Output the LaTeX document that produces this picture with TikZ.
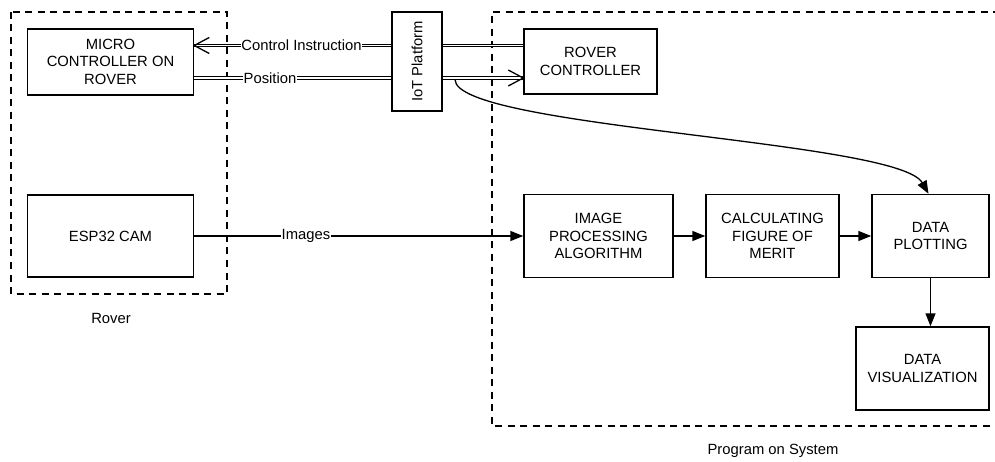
\documentclass[tikz,border=0pt]{standalone}
\usepackage{fontspec}
\setmainfont{Liberation Sans}
\usetikzlibrary{arrows.meta,calc}
\begin{document}
\begin{tikzpicture}[x=1pt,y=-1pt,
  font=\fontsize{14.8}{17.6}\selectfont,
  blk/.style={draw,line width=1.5pt,align=center,inner sep=0pt},
  grp/.style={draw,line width=1.3pt,dash pattern=on 7pt off 5.5pt},
  dbl/.style={draw,double,line width=1.1pt,double distance=1.3pt},
  chev/.style={draw,line width=1.3pt},
  flow/.style={draw,line width=1.5pt,-{Triangle[length=13pt,width=10pt]}},
  lbl/.style={fill=white,inner sep=0.6pt}]
\useasboundingbox (0,0) rectangle (995,462);

% group frames
\draw[grp] (11,12) rectangle (227,294);
\draw[grp] (1000,12) -- (492,12) -- (492,426) -- (1000,426);
\node (rovlbl) at (111,318) {Rover};
\node (prglbl) at (773,451) {Program on System};

% blocks
\node[blk,minimum width=166pt,minimum height=66pt] (mc) at (110.5,61.8) {MICRO\\CONTROLLER ON\\ROVER};
\node[blk,minimum width=166pt,minimum height=82pt] (esp) at (110.5,236) {ESP32 CAM};
\node[blk,minimum width=50pt,minimum height=99pt] (iot) at (417,61.5) {\rotatebox{90}{IoT Platform}};
\node[blk,minimum width=133pt,minimum height=65pt] (rc) at (590.5,61.5) {ROVER\\CONTROLLER};
\node[blk,minimum width=149pt,minimum height=83pt] (ipa) at (598.5,236) {IMAGE\\PROCESSING\\ALGORITHM};
\node[blk,minimum width=133pt,minimum height=83pt] (fom) at (772.5,236) {CALCULATING\\FIGURE OF\\MERIT};
\node[blk,minimum width=117pt,minimum height=83pt] (dp) at (930.5,236) {DATA\\PLOTTING};
\node[blk,minimum width=133pt,minimum height=83pt] (dv) at (922.5,368.5) {DATA\\VISUALIZATION};

% heights of the two double links
\coordinate (cy) at (0,45.5);
\coordinate (py) at (0,78);

% control instruction: rover controller -> IoT -> micro controller
\draw[dbl] (rc.west |- cy) -- (iot.east |- cy);
\draw[dbl] (iot.west |- cy) -- (mc.east |- cy);
\node[lbl] (ctl) at (301.5,45.5) {Control Instruction};
\coordinate (ctip) at (mc.east |- cy);
\draw[chev] ([xshift=15pt,yshift=8pt]ctip) -- (ctip) -- ([xshift=15pt,yshift=-8pt]ctip);

% position: micro controller -> IoT -> rover controller
\draw[dbl] (mc.east |- py) -- (iot.west |- py);
\draw[dbl] (iot.east |- py) -- (rc.west |- py);
\node[lbl] (pos) at (270,78) {Position};
\coordinate (ptip) at (rc.west |- py);
\draw[chev] ([xshift=-15pt,yshift=8pt]ptip) -- (ptip) -- ([xshift=-15pt,yshift=-8pt]ptip);

% position feed to the plotter
\coordinate (tap) at (455,79.5);
\coordinate (dptop) at ($(dp.north)+(-2,0)$);
\draw[flow,line width=1.3pt] (tap) .. controls (455,128) and (898,140) .. (dptop);

% image pipeline
\draw[flow] (esp.east) -- (ipa.west);
\node[lbl] (img) at (306,236) {Images};
\draw[flow] (ipa.east) -- (fom.west);
\draw[flow] (fom.east) -- (dp.west);
\draw[flow] (dp.south) -- (dp.south |- dv.north);
\end{tikzpicture}
\end{document}
